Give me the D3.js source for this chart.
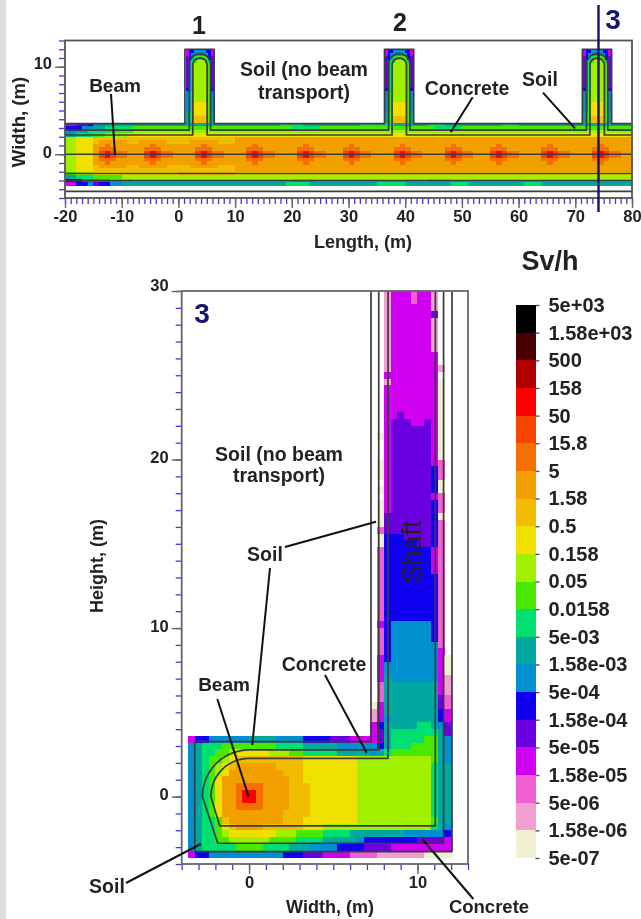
<!DOCTYPE html>
<html><head><meta charset="utf-8">
<style>html,body{margin:0;padding:0;background:#fff}svg{display:block;filter:blur(.35px)}text{font-family:"Liberation Sans",Arial,sans-serif;font-weight:700;fill:#222}</style>
<script src="https://cdn.jsdelivr.net/npm/d3@7"></script></head><body>
<script>
// colour levels, top of the scale first
const levelKeys = "abcdefghijklmnopqrst".split("");
const levelColors = ["#000000","#4b0000","#b00000","#ff0000","#f54500","#f57000","#f2a000","#f2bc00","#f0e000","#a0f000","#4ae800","#00e070","#00a8a0","#0090d0","#1000f0","#6a00e0","#d000f0","#f060d0","#f0a0d0","#f0f0d0"];
const legendLabels = ["5e+03","1.58e+03","500","158","50","15.8","5","1.58","0.5","0.158","0.05","0.0158","5e-03","1.58e-03","5e-04","1.58e-04","5e-05","1.58e-05","5e-06","1.58e-06","5e-07"];

// top panel: run-length rows, 1 m columns from x=-20, 0.4 m rows from y=3.6
const spotEdge = "j2i3h1g5h2g5h4g5h3g70";
const spotOuter = "j2i3g2f1g7f1g8f1g8f1g8f1g7f1g8f1g8f1g7f1g8f1g8f1g5";
const spotMid = "j2i3g1f3g5f3g6f3g6f3g6f3g5f3g6f3g6f3g5f3g6f3g6f3g4";
const spotCore = "j2i3g1e1d1e1f2g2g1e1d1e1f2g3g1e1d1e1f2g3g1e1d1e1f2g3g1e1d1e1f2g2g1e1d1e1f2g3g1e1d1e1f2g3g1e1d1e1f2g2g1e1d1e1f2g3g1e1d1e1f2g3g1e1d1e1f2g2";
const lengthRows = [
 "q2p2o1n2m31l4m10l6m6l3m10l3m20",
 "o3n2m2l5k28l5k20l5k30",
 "n2m2l4k4j88",
 "m2l3k2j4i89",
 "j2i3h25g70",
 spotEdge, spotOuter, spotMid, spotCore, spotCore, spotMid, spotOuter, spotEdge,
 "j2i3h25g70",
 "k2j3i15h10i70",
 "m2l3k5j90",
 "o3n3m2l4k28l4k20l4k32",
 "q2o2n1p1o2n2m29l4m12l5m8l3m10l3m16"
];
// branch template: ten 0.5 m columns, 0.4 m rows from y=12
const branchRows = ["qoonnnnooq","qonmmmmmoq","pomlkkklop","pnlkjjjklp","pnljjjjjkp","pnljjjjjkp","pnljjjjjkp","pnljjjjjkp","pnljjjjjkp","pnljjjjjkp","pnljjjjjkp","onljjjjjko","nmkjjjjjkn","nmkjjjjjkn","nmkjjjjjkn","nmkiiiiikn","nmkiiiiikn","nmkiiiiikn","mlkiiiiikm","mlkhhhhhkm","mlkhhhhhkm"];
const branchStarts = [1.3,36.4,71.3];

// lower panel: corridor, 0.4 m columns from x=-3.6, 0.4 m rows from y=3.6
const corridorRows = [
 "q1o2n6m4n4o4p3q3q1p1m1l5k2m1n1",
 "n1m1l3k8l4m5n5n1o1m1l3k4m1n1",
 "n1m1l2k2j1i5j3k2l5m5n1m1l1k7m1n1",
 "n1m1l1k2j1i1h10i8j11k1m1n1",
 "n1m1l1k1j1i1h1g6h4i8j11l1m2",
 "n1m1l1k1j1i1g8h3i8j11l1m2",
 "n1m1l1k1i1g10h2i8j11l1m2",
 "n1m1l1k1i1g2f4g4h3i7j11l1m2",
 "n1m1l1k1i1g2f1d2f1g4h3i7j11l1m2",
 "n1m1l1k1i1g2f1d2f1g4h3i7j11l1m2",
 "n1m1l1k1i1g2f4g4h3i7j11l1m2",
 "n1m1l1k1i1g9h4i7j11l1m2",
 "n1m1l2k1h1g8h3i8j11k1m2",
 "n1m1l2k1i1h1g4h6i3j16l1m1n1",
 "n1m1l2k1j1i7j3k4l4m8n6o1",
 "n1m1l2k2j6k4l4m5n1o8p4q1",
 "n1m1l5k4l4m3n4o4p4q9",
 "q1o2n11o3p3q4r4s7t4"
];
// shaft: [row count, twelve 0.4 m columns from x=7.2], rows from y=30
const shaftRows = [[2,"..sqqqrqqs.."],[1,"..sqqqqqqs.."],[1,"..sqqqqqqp.."],[5,"..sqqqqqqs.."],[2,"..sqqqqqqq.."],[1,"..sqqqqqqqs."],[1,"..qqqqqqqq.."],[1,"..sqqqqqqqt."],[4,"..qqqqqqqqt."],[1,"..qqpqqqqqt."],[1,"..qpppqqpqt."],[1,"..qppppppqt."],[1,".tqppppppqt."],[3,"..qppppppqt."],[1,".tqppppppqr."],[2,".tqppppppor."],[1,"..qppppppot."],[1,".tqppppppot."],[1,"..qppppppqr."],[2,".tqppppppor."],[1,".tpppppppot."],[1,".tpppppppor."],[1,".rpppppppor."],[1,".toooppppor."],[1,".toooooppor."],[4,".roooooooqr."],[7,".roooooooor."],[1,".qonnnnnnor."],[2,".ronnnnnnor."],[1,".ronnnnnnnr."],[1,".ronnnnnnnq."],[1,".qonnnnnnnqt"],[2,".qnnnnnnnnqt"],[1,".qmnnnnnnnqs"],[2,".rmmmmmmmmqs"],[1,".rmmmmmmmmpr"],[1,"tqmmmmmmmmpr"],[1,"sqmmmmmmmmoq"],[1,"sqnmmmmmmmoq"],[1,"qommmmmllmnp"],[1,"qpmlllllllmp"]];

const lengthTicks = d3.range(-20,81), heightTicks = d3.range(-4,31), widthTicks = d3.range(-4,14), topWidthTicks = d3.range(-5,14);

const W=641,H=919;
const svg=d3.select("body").append("svg").attr("width",W).attr("height",H);
svg.append("rect").attr("width",W).attr("height",H).attr("fill","#fff");
svg.append("rect").attr("width",6).attr("height",H).attr("fill","#dcdcdc");

const color=d3.scaleOrdinal(levelKeys,levelColors);
const expand=s=>Array.from(s.matchAll(/([a-t.])(\d+)/g)).flatMap(m=>Array(+m[2]).fill(m[1]));
function drawCells(g,cells,x,y){
  g.append("g").attr("shape-rendering","crispEdges").selectAll("rect").data(cells.filter(c=>c.k!==".")).join("rect")
   .attr("x",d=>x(d.x0)).attr("y",d=>y(d.y1))
   .attr("width",d=>x(d.x1)-x(d.x0)+.4).attr("height",d=>y(d.y0)-y(d.y1)+.4)
   .attr("fill",d=>color(d.k));
}
const arc=(cx,cy,rx,ry,a0,a1,n=14)=>d3.range(n+1).map(i=>{const a=(a0+(a1-a0)*i/n)*Math.PI/180;return [cx+rx*Math.cos(a),cy+ry*Math.sin(a)];});
function drawAxes(g,x,y,xMinor,yMinor,xMajor,yMajor,x0,y0,yShift){
  const minor=(ax,vals,tr)=>{const a=g.append("g").attr("transform",tr).call(ax.tickValues(vals).tickSize(6).tickFormat(""));
    a.selectAll("line").attr("stroke","#3a3ae8").attr("stroke-width",1.3);a.select(".domain").remove();};
  minor(d3.axisBottom(x),xMinor,`translate(0,${y0})`);
  minor(d3.axisLeft(y),yMinor,`translate(${x0},0)`);
  const major=(ax,vals,tr)=>{const a=g.append("g").attr("transform",tr).call(ax.tickValues(vals).tickSize(10).tickPadding(3).tickFormat(d=>String(d)));
    a.selectAll("line").attr("stroke","#666").attr("stroke-width",1.4);a.select(".domain").remove();
    a.selectAll("text").attr("font-size",16.5).attr("fill","#222");return a;};
  major(d3.axisBottom(x),xMajor,`translate(0,${y0})`).selectAll("text").attr("transform","translate(0,-1)");
  major(d3.axisLeft(y),yMajor,`translate(${x0},0)`).selectAll("text").attr("transform",d=>`translate(0,${yShift(d)})`);
}
const lbl=(t,x,y,size=19.5,o={})=>{const e=svg.append("text").text(t).attr("x",x).attr("y",y).attr("font-size",size).attr("text-anchor",o.anchor||"middle");
  if(o.rot)e.attr("transform",`rotate(${o.rot} ${x} ${y})`);if(o.fill)e.style("fill",o.fill);if(o.normal)e.style("font-weight",400);return e;};
const leader=(a,b,c,d,w=2)=>svg.append("line").attr("x1",a).attr("y1",b).attr("x2",c).attr("y2",d).attr("stroke","#111").attr("stroke-width",w);

/* ---------- top panel ---------- */
const xT=d3.scaleLinear([-20,80],[65,632]), yT=d3.scaleLinear([-5,13],[198,40.5]);
const gT=svg.append("g");
let topCells=[];
lengthRows.forEach((r,ri)=>expand(r).forEach((k,ci)=>topCells.push({k,x0:-20+ci,x1:-19+ci,y1:3.6-.4*ri,y0:3.2-.4*ri})));
branchStarts.forEach(s=>branchRows.forEach((r,ri)=>[...r].forEach((k,ci)=>topCells.push({k,x0:s+.5*ci,x1:s+.5+.5*ci,y1:12-.4*ri,y0:11.6-.4*ri}))));
drawCells(gT,topCells,xT,yT);
drawAxes(gT,xT,yT,lengthTicks,topWidthTicks,d3.range(-20,81,10),[0,10],65,198,d=>d===10?-4:-2);
const lineT=d3.line().x(d=>xT(d[0])).y(d=>yT(d[1]));
const stroke=(g,pts,gen,w=1.7,c="#3c3c3c")=>g.append("path").attr("d",gen(pts)).attr("fill","none").attr("stroke",c).attr("stroke-width",w).attr("stroke-linejoin","round");
const pxRatio=5.67/8.75;
const mids=[3.8,38.95,73.85];
const outerT=[[-20,3.5]];branchStarts.forEach((s,i)=>{const L=[1.15,36.35,71.25][i],R=[6.3,41.5,76.4][i];outerT.push([L,3.5],[L,12],[R,12],[R,3.5]);});outerT.push([80,3.5]);
stroke(gT,outerT,lineT);
[[2.75,1.88,11.5],[2.2,1.27,11]].forEach(([yb,hw,top])=>{
  const pts=[[-20,yb]];const ry=hw*pxRatio;
  mids.forEach(m=>{pts.push([m-hw,yb],...arc(m,top-ry,hw,ry,180,0),[m+hw,yb]);});
  pts.push([80,yb]);stroke(gT,pts,lineT);
});
[-2.2,-3.03,-4.25,0].forEach(v=>stroke(gT,[[-20,v],[80,v]],lineT));
gT.append("rect").attr("x",xT(-20)).attr("y",yT(13)).attr("width",xT(80)-xT(-20)).attr("height",yT(-5)-yT(13)).attr("fill","none").attr("stroke","#555").attr("stroke-width",1.8);

lbl("1",199,34,25);lbl("2",400,31,25);lbl("3",613,29,28,{fill:"#14146e"});
svg.append("line").attr("x1",598.5).attr("x2",598.5).attr("y1",5).attr("y2",212).attr("stroke","#14146e").attr("stroke-width",2.4);
lbl("Width, (m)",25,122,18.5,{rot:-90});
lbl("Length, (m)",363,248,18);
lbl("Beam",115,92,19);lbl("Soil (no beam",304,76);lbl("transport)",304,99);lbl("Concrete",467,95);lbl("Soil",540,86);
leader(111,94,115,155);leader(472.7,97.3,450.7,132.3);leader(543,92.7,575,128.3);

/* ---------- lower panel ---------- */
const xB=d3.scaleLinear([-4,13],[181.7,468]), yB=d3.scaleLinear([-4,30],[864,291]);
const gB=svg.append("g");
let lowCells=[];
corridorRows.forEach((r,ri)=>expand(r).forEach((k,ci)=>lowCells.push({k,x0:-3.6+.4*ci,x1:-3.2+.4*ci,y1:3.6-.4*ri,y0:3.2-.4*ri})));
let rowAt=0;
shaftRows.forEach(([n,r])=>{for(let j=0;j<n;j++,rowAt++)[...r].forEach((k,ci)=>lowCells.push({k,x0:7.2+.4*ci,x1:7.6+.4*ci,y1:30-.4*rowAt,y0:29.6-.4*rowAt}));});
drawCells(gB,lowCells,xB,yB);
drawAxes(gB,xB,yB,widthTicks,heightTicks,[0,10],[0,10,20,30],181.7,864,d=>d===30?-6:-2);
const lineB=d3.line().x(d=>xB(d[0])).y(d=>yB(d[1]));
stroke(gB,[[7.24,30],[7.24,3.26],[-3.22,3.26],[-3.22,-3.26],[12.05,-3.26],[12.05,30]],lineB);
stroke(gB,[[7.7,30],[7.7,2.77],[0,2.77],...arc(0,0,2.77,2.77,90,180),[-1.86,-2.77],[11.55,-2.77],[11.55,30]],lineB);
stroke(gB,[[8.25,30],[8.25,2.27],[0,2.27],...arc(0,0,2.27,2.27,90,180),[-1.74,-1.74],[11.06,-1.74],[11.06,30]],lineB);
gB.append("rect").attr("x",xB(-4)).attr("y",yB(30)).attr("width",xB(13)-xB(-4)).attr("height",yB(-4)-yB(30)).attr("fill","none").attr("stroke","#666").attr("stroke-width",1.8);

lbl("3",202,323,28,{fill:"#14146e"});
lbl("Height, (m)",103,566,18,{rot:-90});
lbl("Width, (m)",330,913,18);
lbl("Soil (no beam",279,461);lbl("transport)",279,482);
lbl("Soil",265,561);lbl("Concrete",324,671);lbl("Beam",224,691,19);lbl("Soil",107,893);lbl("Concrete",489,913,18.5);
lbl("Shaft",421,552,27,{rot:-90,normal:true});
leader(285,547,376,521.7);leader(270,568,252.3,745);leader(325,675,366.7,752.7);leader(217.3,699,248.7,796.7);leader(126,883,200.7,844);leader(422.3,839,473.3,899);

/* ---------- colour scale ---------- */
lbl("Sv/h",550,270,27);
const yL=d3.scaleLinear([0,20],[305,858]);
const gL=svg.append("g");
gL.append("g").attr("shape-rendering","crispEdges").selectAll("rect").data(levelColors).join("rect")
  .attr("x",516).attr("width",19.5).attr("y",(d,i)=>yL(i)).attr("height",(d,i)=>yL(i+1)-yL(i)+.4).attr("fill",d=>d);
const axL=gL.append("g").attr("transform","translate(535.5,0)").call(d3.axisRight(yL).tickValues(d3.range(21)).tickSize(4).tickPadding(9).tickFormat(i=>legendLabels[i]));
axL.select(".domain").remove();axL.selectAll("line").attr("stroke","#555").attr("stroke-width",1.4);
axL.selectAll("text").attr("font-size",20).attr("fill","#222");
</script></body></html>
